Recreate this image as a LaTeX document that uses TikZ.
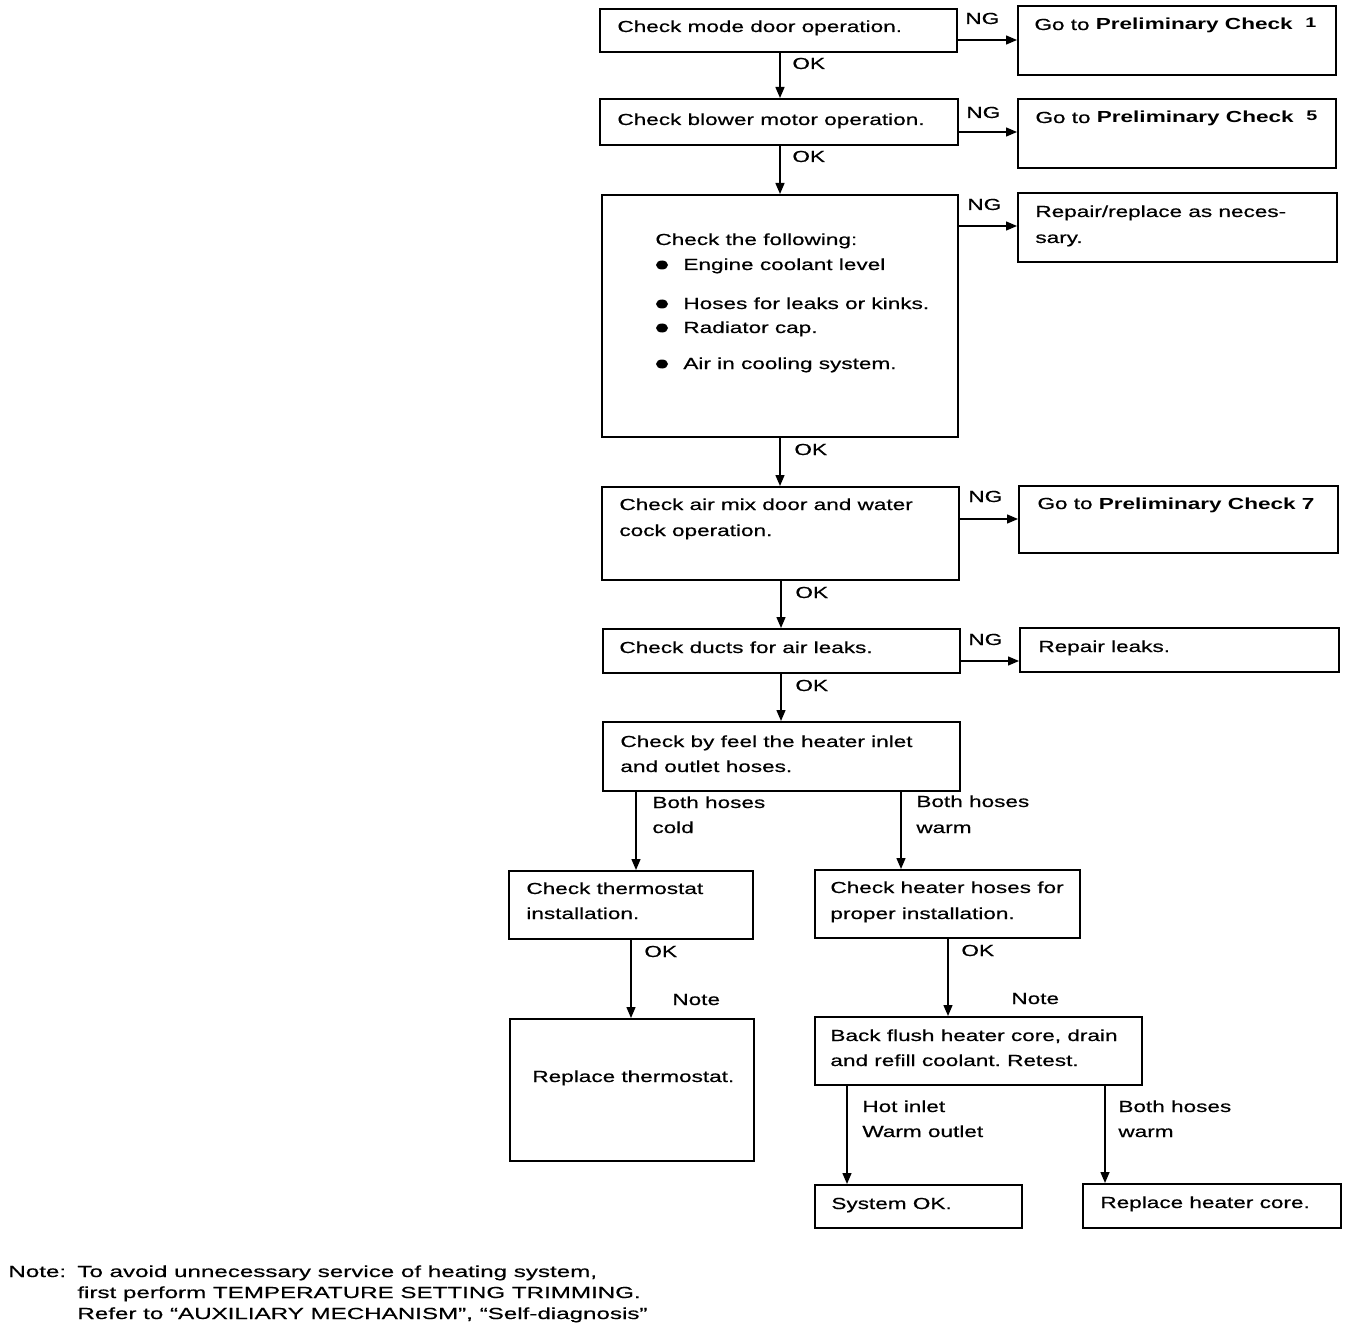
\documentclass[tikz,border=0pt]{standalone}
\usepackage{fontspec}
\setmainfont{Liberation Sans}[FakeStretch=1.41, UprightFeatures={FakeBold=0.5}]
\newfontfamily\notefont{Liberation Sans}[FakeStretch=1.51, UprightFeatures={FakeBold=0.5}]
\usetikzlibrary{arrows.meta,fit}
\frenchspacing
\tikzset{
  box/.style={draw, line width=1pt, inner sep=0pt},
  arr/.style={line width=0.7pt, -{Triangle[length=5.5pt,width=4.5pt]}},
  txt/.style={anchor=base west, inner sep=0pt, font=\fontsize{8pt}{10pt}\selectfont},
  ntxt/.style={anchor=base west, inner sep=0pt, font=\notefont\fontsize{8pt}{10pt}\selectfont},
}
\newcommand{\supnum}[1]{\raisebox{1pt}{\fontsize{7pt}{8pt}\selectfont\bfseries #1}}
\begin{document}
\begin{tikzpicture}[x=0.5pt,y=-0.5pt]
\useasboundingbox (0,0) rectangle (1360,1332);
% boxes
\node[box, fit={(600,9)(957,52)}] (b1) {};
\node[box, fit={(1018,6)(1336,75)}] (p1) {};
\node[box, fit={(600,99)(958,145)}] (b2) {};
\node[box, fit={(1018,99)(1336,168)}] (p5) {};
\node[box, fit={(602,195)(958,437)}] (b3) {};
\node[box, fit={(1018,193)(1337,262)}] (rr) {};
\node[box, fit={(602,487)(959,580)}] (b4) {};
\node[box, fit={(1019,486)(1338,553)}] (p7) {};
\node[box, fit={(603,629)(960,673)}] (b5) {};
\node[box, fit={(1020,628)(1339,672)}] (rl) {};
\node[box, fit={(603,722)(960,791)}] (b6) {};
\node[box, fit={(509,871)(753,939)}] (b7) {};
\node[box, fit={(815,870)(1080,938)}] (b8) {};
\node[box, fit={(510,1019)(754,1161)}] (b9) {};
\node[box, fit={(815,1017)(1142,1085)}] (b10) {};
\node[box, fit={(815,1185)(1022,1228)}] (b11) {};
\node[box, fit={(1083,1184)(1341,1228)}] (b12) {};
% guide coordinates
\coordinate (v780) at (780,0);
\coordinate (v781) at (781,0);
\coordinate (v636) at (636,0);
\coordinate (v901) at (901,0);
\coordinate (v631) at (631,0);
\coordinate (v948) at (948,0);
\coordinate (v847) at (847,0);
\coordinate (v1105) at (1105,0);
\coordinate (h40) at (0,40);
\coordinate (h132) at (0,132);
\coordinate (h226) at (0,226);
\coordinate (h519) at (0,519);
\coordinate (h661) at (0,661);
% connectors
\draw[arr] (b1.south -| v780) -- (b2.north -| v780);
\draw[arr] (b2.south -| v780) -- (b3.north -| v780);
\draw[arr] (b3.south -| v780) -- (b4.north -| v780);
\draw[arr] (b4.south -| v781) -- (b5.north -| v781);
\draw[arr] (b5.south -| v781) -- (b6.north -| v781);
\draw[arr] (b1.east |- h40) -- (p1.west |- h40);
\draw[arr] (b2.east |- h132) -- (p5.west |- h132);
\draw[arr] (b3.east |- h226) -- (rr.west |- h226);
\draw[arr] (b4.east |- h519) -- (p7.west |- h519);
\draw[arr] (b5.east |- h661) -- (rl.west |- h661);
\draw[arr] (b6.south -| v636) -- (b7.north -| v636);
\draw[arr] (b6.south -| v901) -- (b8.north -| v901);
\draw[arr] (b7.south -| v631) -- (b9.north -| v631);
\draw[arr] (b8.south -| v948) -- (b10.north -| v948);
\draw[arr] (b10.south -| v847) -- (b11.north -| v847);
\draw[arr] (b10.south -| v1105) -- (b12.north -| v1105);
% texts
\node[txt] (t1) at (617,32) {Check mode door operation.};
\node[txt] (tp1) at (1034,30) {Go to \textbf{Preliminary Check}\ \ \supnum{1}};
\node[txt] (ng1) at (965,24) {NG};
\node[txt] (ok1) at (792,69) {OK};
\node[txt] (t2) at (617,125) {Check blower motor operation.};
\node[txt] (tp5) at (1035,123) {Go to \textbf{Preliminary Check}\ \ \supnum{5}};
\node[txt] (ng2) at (966,118) {NG};
\node[txt] (ok2) at (792,162) {OK};
\node[txt] (t3a) at (655,245) {Check the following:};
\fill (662,265) ellipse (6 and 4.5);
\fill (662,304) ellipse (6 and 4.5);
\fill (662,328) ellipse (6 and 4.5);
\fill (662,364) ellipse (6 and 4.5);
\node[txt] (t3b) at (683,270) {Engine coolant level};
\node[txt] (t3c) at (683,309) {Hoses for leaks or kinks.};
\node[txt] (t3d) at (683,333) {Radiator cap.};
\node[txt] (t3e) at (683,369) {Air in cooling system.};
\node[txt] (ng3) at (967,210) {NG};
\node[txt] (tr1) at (1035,217) {Repair/replace as neces-};
\node[txt] (tr2) at (1035,243) {sary.};
\node[txt] (ok3) at (794,455) {OK};
\node[txt] (t4a) at (619,510) {Check air mix door and water};
\node[txt] (t4b) at (619,536) {cock operation.};
\node[txt] (ng4) at (968,502) {NG};
\node[txt] (tp7) at (1037,509) {Go to \textbf{Preliminary Check 7}};
\node[txt] (ok4) at (795,598) {OK};
\node[txt] (t5) at (619,653) {Check ducts for air leaks.};
\node[txt] (ng5) at (968,645) {NG};
\node[txt] (trl) at (1038,652) {Repair leaks.};
\node[txt] (ok5) at (795,691) {OK};
\node[txt] (t6a) at (620,747) {Check by feel the heater inlet};
\node[txt] (t6b) at (620,772) {and outlet hoses.};
\node[txt] (bh1a) at (652,808) {Both hoses};
\node[txt] (bh1b) at (652,833) {cold};
\node[txt] (bh2a) at (916,807) {Both hoses};
\node[txt] (bh2b) at (916,833) {warm};
\node[txt] (t7a) at (526,894) {Check thermostat};
\node[txt] (t7b) at (526,919) {installation.};
\node[txt] (t8a) at (830,893) {Check heater hoses for};
\node[txt] (t8b) at (830,919) {proper installation.};
\node[txt] (ok6) at (644,957) {OK};
\node[txt] (note1) at (672,1005) {Note};
\node[txt] (ok7) at (961,956) {OK};
\node[txt] (note2) at (1011,1004) {Note};
\node[txt] (t9) at (532,1082) {Replace thermostat.};
\node[txt] (t10a) at (830,1041) {Back flush heater core, drain};
\node[txt] (t10b) at (830,1066) {and refill coolant. Retest.};
\node[txt] (hi1) at (862,1112) {Hot inlet};
\node[txt] (hi2) at (862,1137) {Warm outlet};
\node[txt] (bh3a) at (1118,1112) {Both hoses};
\node[txt] (bh3b) at (1118,1137) {warm};
\node[txt] (t11) at (831,1209) {System OK.};
\node[txt] (t12) at (1100,1208) {Replace heater core.};
\node[ntxt] (nt) at (8,1277) {Note:};
\node[ntxt] (n1) at (77,1277) {To avoid unnecessary service of heating system,};
\node[ntxt] (n2) at (77,1298) {first perform TEMPERATURE SETTING TRIMMING.};
\node[ntxt] (n3) at (77,1319) {Refer to “AUXILIARY MECHANISM”, “Self-diagnosis”};
\end{tikzpicture}
\end{document}
